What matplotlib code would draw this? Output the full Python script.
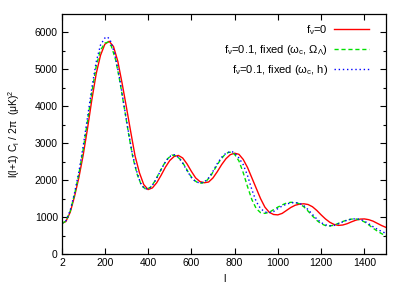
import matplotlib
matplotlib.use("Agg")
import matplotlib.pyplot as plt

# multipole values and l(l+1)C_l/2pi
l_red = [2, 20, 40, 60, 80, 100, 120, 140, 160, 180, 200, 220, 240, 260, 280, 300,
         320, 340, 360, 380, 400, 420, 440, 460, 480, 500, 520, 540, 560, 580, 600,
         620, 640, 660, 680, 700, 720, 740, 760, 780, 800, 820, 840, 860, 880, 900,
         920, 940, 960, 980, 1000, 1020, 1040, 1060, 1080, 1100, 1120, 1140, 1160,
         1180, 1200, 1220, 1240, 1260, 1280, 1300, 1320, 1340, 1360, 1380, 1400,
         1420, 1440, 1460, 1480, 1500]
c_red = [830, 880, 1130, 1560, 2070, 2680, 3400, 4180, 4880, 5380, 5680, 5760, 5620,
         5220, 4620, 3970, 3300, 2650, 2200, 1880, 1745, 1790, 1930, 2130, 2350, 2530,
         2640, 2670, 2600, 2440, 2240, 2060, 1960, 1930, 1950, 2060, 2230, 2420, 2580,
         2690, 2730, 2700, 2560, 2340, 2060, 1780, 1500, 1270, 1130, 1070, 1060, 1100,
         1180, 1260, 1320, 1350, 1360, 1340, 1280, 1180, 1060, 950, 860, 800, 775, 785,
         820, 870, 915, 945, 950, 930, 890, 830, 770, 720]

l_green = [2, 20, 40, 60, 80, 100, 120, 140, 160, 180, 200, 215, 230, 250, 270, 290,
           310, 330, 350, 370, 390, 410, 430, 450, 470, 490, 510, 530, 550, 570, 590,
           610, 630, 650, 670, 690, 710, 730, 750, 770, 785, 800, 820, 840, 860, 880,
           900, 920, 940, 960, 980, 1000, 1020, 1040, 1060, 1080, 1100, 1120, 1140,
           1160, 1180, 1200, 1220, 1240, 1260, 1280, 1300, 1320, 1340, 1360, 1380,
           1400, 1420, 1440, 1460, 1480, 1500]
c_green = [830, 890, 1160, 1610, 2170, 2830, 3600, 4380, 5080, 5520, 5710, 5740, 5630,
           5260, 4660, 3960, 3250, 2600, 2150, 1850, 1750, 1800, 1960, 2180, 2400, 2580,
           2680, 2660, 2560, 2380, 2170, 2010, 1930, 1920, 1980, 2120, 2320, 2510, 2660,
           2750, 2760, 2700, 2520, 2200, 1820, 1470, 1230, 1120, 1100, 1130, 1200, 1270,
           1330, 1380, 1400, 1395, 1360, 1280, 1160, 1030, 910, 820, 770, 760, 780, 830,
           880, 920, 945, 950, 925, 870, 790, 700, 620, 550, 490]

l_blue = [2, 20, 40, 60, 80, 100, 120, 140, 160, 180, 200, 212, 225, 245, 265, 285,
          305, 325, 345, 365, 385, 405, 425, 445, 465, 485, 505, 522, 540, 560, 580,
          600, 620, 640, 660, 680, 700, 720, 740, 760, 785, 800, 820, 840, 860, 880,
          900, 920, 940, 955, 980, 1000, 1020, 1040, 1060, 1080, 1100, 1120, 1140,
          1160, 1180, 1200, 1220, 1240, 1260, 1280, 1300, 1320, 1340, 1360, 1380,
          1400, 1420, 1440, 1460, 1480, 1500]
c_blue = [830, 900, 1180, 1650, 2220, 2920, 3700, 4500, 5200, 5660, 5850, 5880, 5790,
          5440, 4870, 4160, 3450, 2780, 2280, 1920, 1760, 1770, 1900, 2110, 2340, 2540,
          2660, 2690, 2620, 2460, 2260, 2070, 1960, 1920, 1950, 2060, 2240, 2450, 2620,
          2730, 2780, 2740, 2600, 2420, 2120, 1740, 1420, 1230, 1140, 1115, 1150, 1230,
          1300, 1350, 1385, 1395, 1375, 1310, 1200, 1070, 950, 850, 790, 765, 775, 820,
          870, 915, 945, 955, 940, 890, 820, 740, 670, 610, 560]

labels = [r"f$_{\mathrm{ν}}$=0",
          r"f$_{\mathrm{ν}}$=0.1, fixed (ω$_{\mathrm{c}}$, Ω$_{\mathrm{Λ}}$)",
          r"f$_{\mathrm{ν}}$=0.1, fixed (ω$_{\mathrm{c}}$, h)"]
x_ticks = [2, 200, 400, 600, 800, 1000, 1200, 1400]

plt.rcParams['font.family'] = ['Liberation Sans', 'DejaVu Sans']
plt.rcParams['mathtext.fontset'] = 'custom'
plt.rcParams['mathtext.rm'] = 'Liberation Sans'
plt.rcParams['mathtext.it'] = 'Liberation Sans:italic'
plt.rcParams['font.size'] = 7.5

fig = plt.figure(figsize=(4.07, 2.91), dpi=100)
ax = fig.add_axes([62 / 407, 37 / 291, 324 / 407, 240 / 291])

ax.plot(l_red, c_red, color='#ff0000', lw=1.0, label=labels[0])
ax.plot(l_green, c_green, color='#00e000', lw=1.0, dashes=(3, 2), label=labels[1])
ax.plot(l_blue, c_blue, color='#0000ff', lw=1.0, dashes=(1, 2), label=labels[2])

ax.set_xlim(2, 1500)
ax.set_ylim(0, 6500)
ax.set_xticks(x_ticks)
ax.set_yticks(range(0, 6001, 1000))
ax.set_yticks(range(500, 6500, 1000), minor=True)
ax.tick_params(which='both', direction='in', top=True, right=True, pad=3)
ax.tick_params(which='major', length=4, width=0.8)
ax.tick_params(which='minor', length=2.5, width=0.8)
ax.tick_params(axis='x', which='minor', bottom=False, top=False)
for s in ax.spines.values():
    s.set_linewidth(0.9)

ax.set_xlabel("l", labelpad=4)
ax.set_ylabel(r"l(l+1) C$_{\mathrm{l}}$ / 2π  (μK)$^2$", labelpad=9)

ax.legend(loc='upper right', bbox_to_anchor=(0.978, 1.004), frameon=False,
          markerfirst=False, handlelength=3.1, handletextpad=0.6,
          labelspacing=0.55, fontsize=8)

plt.savefig('out.png', dpi=100)
